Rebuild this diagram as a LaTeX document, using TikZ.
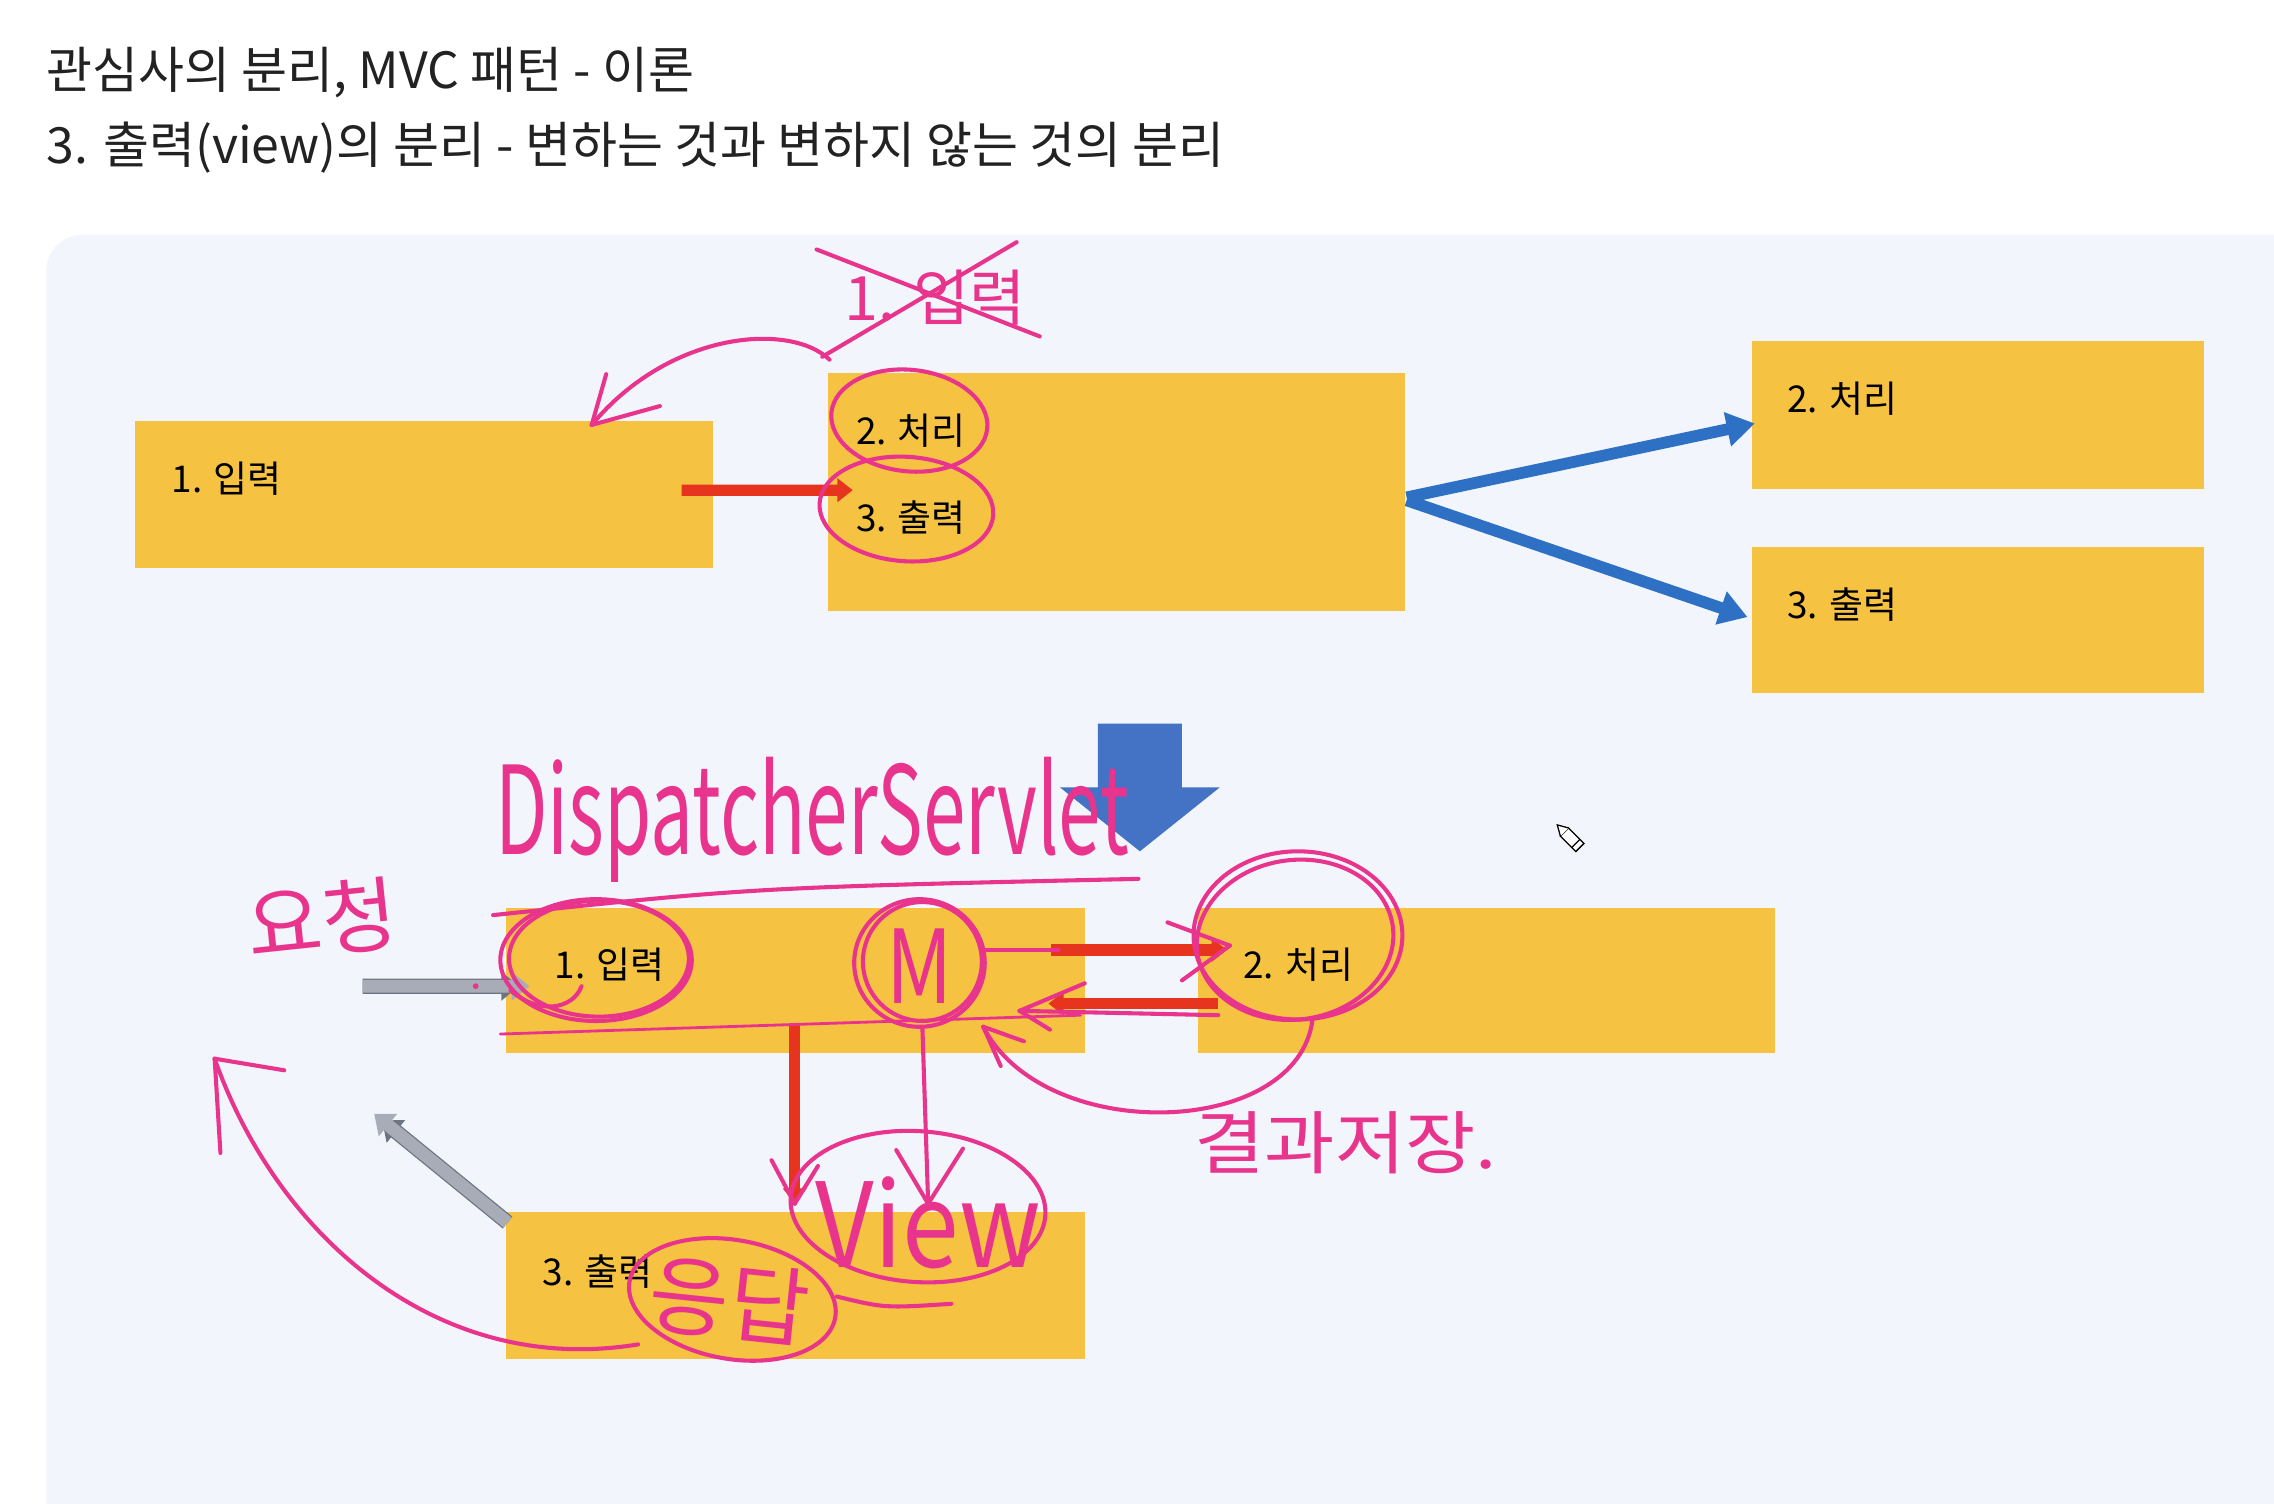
\documentclass[tikz,border=0pt]{standalone}
\usepackage{fontspec}
\setmainfont{Noto Sans CJK KR}
\newfontfamily\hand{Noto Sans CJK KR}
\usetikzlibrary{arrows.meta,calc}
\definecolor{yboxc}{RGB}{245,194,66}
\definecolor{panelc}{RGB}{242,245,252}
\definecolor{pinkc}{RGB}{232,52,140}
\definecolor{bluea}{RGB}{46,112,196}
\definecolor{blueb}{RGB}{68,114,196}
\definecolor{reda}{RGB}{230,52,30}
\definecolor{grayf}{RGB}{168,172,182}
\definecolor{grayl}{RGB}{110,116,130}
\definecolor{titlec}{RGB}{34,34,34}
\begin{document}
\begin{tikzpicture}[x=0.02cm,y=-0.02cm,
  ybox/.style={fill=yboxc, draw=none, inner sep=0pt, outer sep=0pt, anchor=north west},
  lbl/.style={anchor=west, inner sep=0pt, font=\fontsize{14.5}{16}\selectfont, text=black},
  ttl/.style={anchor=west, inner sep=0pt, font=\fontsize{19.6}{21}\selectfont, text=titlec},
  pen/.style={draw=pinkc, line width=1.6pt, line cap=round, line join=round},
  hw/.style={inner sep=0pt, text=pinkc},
  bluearrow/.style={draw=bluea, line width=4.6pt, -{Triangle[length=11pt,width=13pt]}},
  redarrow/.style={draw=reda, line width=4.4pt, -{Triangle[length=6pt,width=9pt]}},
  grayarrow/.style={draw=grayf, line width=5pt, -{Triangle[length=7pt,width=11pt]},
    preaction={draw=grayl, line width=6pt, shorten >=4pt}}
]
\useasboundingbox (0,0) rectangle (1568,1037);
\fill[white] (0,0) rectangle (1568,1037);
\fill[panelc, rounded corners=14pt] (32,162) rectangle (1640,1090);

% titles
\node[ttl] (t1) at (32,50) {관심사의 분리, MVC 패턴 - 이론};
\node[ttl] (t2) at (32,102) {3. 출력(view)의 분리 - 변하는 것과 변하지 않는 것의 분리};

% boxes
\node[ybox, minimum width=7.98cm, minimum height=2.04cm] (in1) at (93,290) {};
\node[ybox, minimum width=7.96cm, minimum height=3.28cm] (mid) at (571,257) {};
\node[ybox, minimum width=6.24cm, minimum height=2.04cm] (p1) at (1208,235) {};
\node[ybox, minimum width=6.24cm, minimum height=2.02cm] (o1) at (1208,377) {};
\node[ybox, minimum width=7.98cm, minimum height=2.0cm] (bin) at (349,626) {};
\node[ybox, minimum width=7.96cm, minimum height=2.0cm] (bproc) at (826,626) {};
\node[ybox, minimum width=7.98cm, minimum height=2.02cm] (bout) at (349,836) {};

% labels
\node[lbl] (in1t) at (118,330) {1. 입력};
\node[lbl] (midt1) at (590,297) {2. 처리};
\node[lbl] (midt2) at (590,357) {3. 출력};
\node[lbl] (p1t) at (1232,275) {2. 처리};
\node[lbl] (o1t) at (1232,417) {3. 출력};
\node[lbl] (bint) at (382,665) {1. 입력};
\node[lbl] (bproct) at (857,665) {2. 처리};
\node[lbl] (boutt) at (374,877) {3. 출력};

% connectors
\draw[redarrow] ($(in1.east)+(-22,-3)$) -- ($(mid.west)+(17,-1)$);
\draw[bluearrow] ($(mid.east)+(1,4)$) -- ($(p1.west)+(2,6)$);
\draw[bluearrow] ($(mid.east)+(1,6)$) -- ($(o1.west)+(-3,-2)$);
\fill[blueb] (757,499) -- (815,499) -- (815,543) -- (841,543) -- (786,587) -- (731,543) -- (757,543) -- cycle;

\coordinate (req) at (250,680);
\coordinate (resp) at (258,768);
\draw[grayarrow] (req) -- ($(bin.west)+(16,4)$);
\draw[grayarrow] ($(bout.north west)+(1,7)$) -- (resp);
\draw[redarrow] ($(bin.east)+(-23,-21)$) -- ($(bproc.west)+(20,-21)$);
\draw[redarrow] ($(bproc.west)+(14,16)$) -- ($(bin.east)+(-25,16)$);
\draw[redarrow] ($(bin.south west)+(199,-20)$) -- ($(bout.north west)+(199,-6)$);

% ---- pink annotations (top) ----
\node[hw, font=\hand\fontsize{24}{24}\selectfont] (x1) at (645,205) {1. 입력};
\draw[pen] (563,172) -- (717,232);
\draw[pen] (701,167) -- (567,246);
\draw[pen] (572,248) .. controls (545,222) and (462,228) .. (408,293);
\draw[pen] (408,293) -- (418,258);
\draw[pen] (408,293) -- (455,280);
\draw[pen, rotate around={-6:(627,290)}] (627,290) ellipse [x radius=54, y radius=35];
\draw[pen, rotate around={-4:(625,351)}] (625,351) ellipse [x radius=60, y radius=36];

% ---- pink annotations (bottom) ----
\node[hw, font=\hand\fontsize{30}{30}\selectfont, yscale=1.6] (ds) at (560,565) {DispatcherServlet};
\draw[pen] (340,631) .. controls (520,612) .. (785,606);
\draw[pen, line width=1.1pt] (345,713) -- (745,700);
\node[hw, font=\hand\fontsize{32}{32}\selectfont, rotate=6] (yc) at (222,634) {요청};
\fill[pinkc] (328,680) circle [radius=2];

\draw[pen] (411,662) ellipse [x radius=66, y radius=42];
\draw[pen] (413,661) ellipse [x radius=62, y radius=40];
\draw[pen] (352,683) .. controls (372,700) and (395,696) .. (401,680);

\draw[pen] (634,664) ellipse [x radius=45, y radius=44];
\draw[pen] (636,663) ellipse [x radius=41, y radius=41];
\node[hw, font=\hand\fontsize{40}{40}\selectfont, xscale=0.8] (mm) at (634,666) {M};
\draw[pen] (679,655) -- (730,655);
\draw[pen] (848,652) -- (805,636);
\draw[pen] (848,652) -- (815,676);
\draw[pen] (703,697) -- (840,700);
\draw[pen] (703,697) -- (748,678);
\draw[pen] (703,697) -- (724,710);

\draw[pen] (895,645) ellipse [x radius=72, y radius=58];
\draw[pen, rotate around={8:(893,648)}] (893,648) ellipse [x radius=68, y radius=55];

\draw[pen] (905,703) .. controls (895,785) and (720,790) .. (678,708);
\draw[pen] (678,708) -- (706,718);
\draw[pen] (678,708) -- (690,735);
\node[hw, font=\hand\fontsize{30}{30}\selectfont, yscale=0.9] (gj) at (928,788) {결과저장.};

\draw[pen] (636,708) -- (640,830);
\draw[pen] (640,830) -- (618,793);
\draw[pen] (640,830) -- (664,792);
\draw[pen] (548,830) -- (532,800);
\draw[pen] (548,830) -- (564,804);

\draw[pen, rotate around={-4:(633,832)}] (633,832) ellipse [x radius=88, y radius=52];
\node[hw, font=\hand\fontsize{40}{40}\selectfont, yscale=1.15] (vw) at (640,843) {View};

\draw[pen, rotate around={-10:(505,896)}] (505,896) ellipse [x radius=72, y radius=41];
\node[hw, font=\hand\fontsize{34}{34}\selectfont, rotate=-6] (ud) at (503,897) {응답};
\draw[pen] (577,894) .. controls (610,902) .. (656,899);

\draw[pen] (440,927) .. controls (300,950) and (190,850) .. (148,730);
\draw[pen] (148,730) -- (196,738);
\draw[pen] (148,730) -- (152,795);

% pencil cursor
\begin{scope}[shift={(1083,578)}, rotate=-45]
  \draw[black, line width=0.5pt, fill=white] (-6,-4) -- (9,-4) -- (9,4) -- (-6,4) -- cycle;
  \draw[black, line width=0.5pt, fill=white] (-6,-4) -- (-13,0) -- (-6,4);
  \draw[black, line width=0.5pt] (5,-4) -- (5,4);
\end{scope}
\end{tikzpicture}
\end{document}
